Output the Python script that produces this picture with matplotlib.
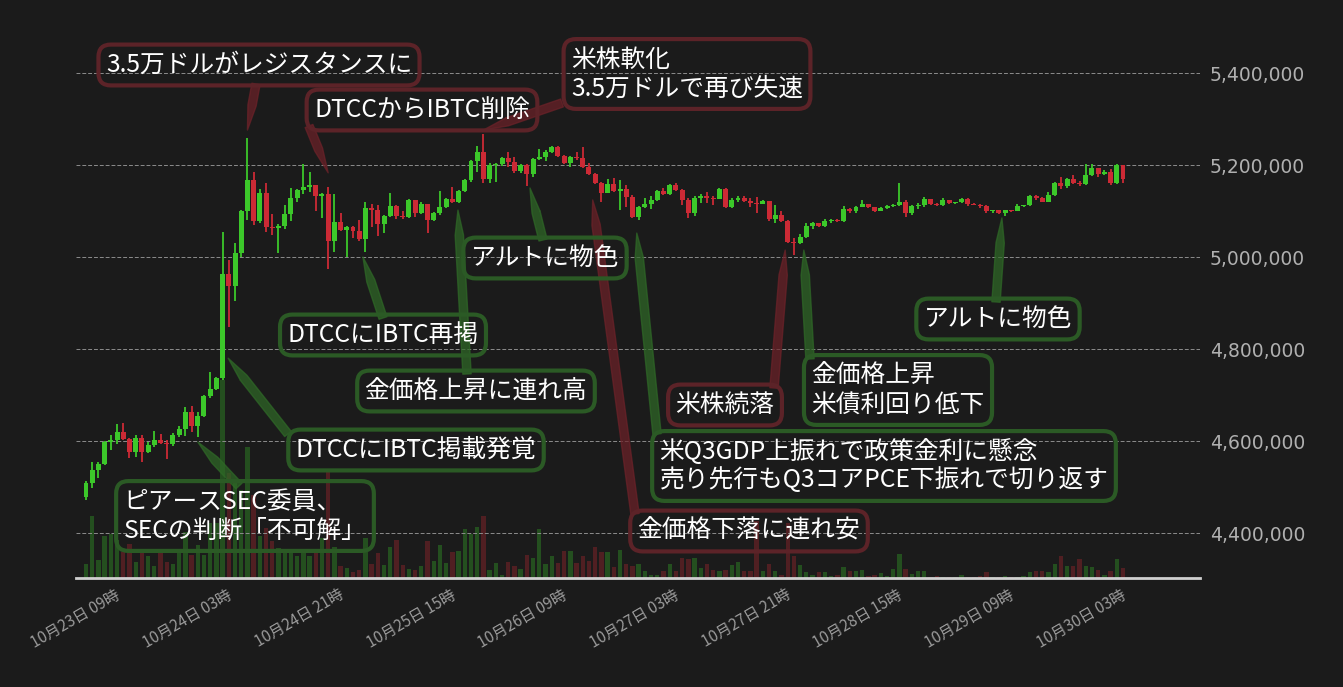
import numpy as np
import matplotlib
matplotlib.use('Agg')
import matplotlib.pyplot as plt
from matplotlib.ticker import FuncFormatter

plt.rcParams['font.family'] = ['Noto Sans CJK JP', 'DejaVu Sans']

bg = '#1b1b1b'
up_col = '#3cc82a'
down_col = '#cc2a35'
box_green = '#2b5a25'
box_red = '#5c2328'

# hourly BTC/JPY, prices in thousand yen (open = previous close)
open_first = 4478
close_k = [4509, 4537, 4550, 4598, 4602, 4620, 4604, 4576, 4607, 4576,
           4591, 4602, 4596, 4594, 4613, 4626, 4663, 4633, 4654, 4698,
           4713, 4737, 4963, 4937, 5009, 5100, 5167, 5078, 5139, 5065,
           5063, 5067, 5093, 5128, 5146, 5152, 5157, 5133, 5137, 5035,
           5076, 5059, 5065, 5057, 5039, 5107, 5102, 5072, 5089, 5111,
           5089, 5087, 5124, 5096, 5115, 5080, 5096, 5109, 5126, 5120,
           5143, 5167, 5209, 5228, 5170, 5200, 5202, 5215, 5207, 5187,
           5200, 5180, 5213, 5217, 5228, 5239, 5220, 5204, 5217, 5215,
           5196, 5180, 5161, 5139, 5159, 5143, 5148, 5130, 5087, 5109,
           5115, 5124, 5143, 5137, 5157, 5146, 5124, 5096, 5128, 5133,
           5128, 5127, 5148, 5109, 5124, 5128, 5122, 5117, 5116, 5122,
           5083, 5091, 5078, 5033, 5030, 5043, 5067, 5074, 5067, 5078,
           5080, 5078, 5104, 5100, 5109, 5115, 5109, 5100, 5107, 5111,
           5113, 5120, 5096, 5111, 5112, 5126, 5115, 5113, 5124, 5117,
           5119, 5126, 5115, 5113, 5111, 5100, 5102, 5096, 5102, 5100,
           5111, 5113, 5133, 5128, 5120, 5135, 5161, 5154, 5170, 5161,
           5159, 5178, 5194, 5180, 5185, 5161, 5200, 5170]
high_k = [4513, 4554, 4554, 4600, 4613, 4637, 4639, 4607, 4613, 4613,
          4598, 4622, 4615, 4602, 4617, 4633, 4674, 4676, 4663, 4700,
          4750, 4739, 5054, 4993, 5030, 5102, 5259, 5185, 5148, 5161,
          5093, 5072, 5113, 5150, 5148, 5202, 5185, 5157, 5139, 5152,
          5137, 5096, 5067, 5067, 5080, 5120, 5115, 5113, 5091, 5139,
          5113, 5100, 5126, 5124, 5120, 5115, 5098, 5143, 5128, 5152,
          5145, 5169, 5211, 5241, 5267, 5204, 5204, 5217, 5228, 5217,
          5202, 5202, 5215, 5235, 5233, 5241, 5241, 5222, 5219, 5228,
          5239, 5204, 5183, 5163, 5170, 5172, 5167, 5157, 5135, 5111,
          5128, 5133, 5146, 5150, 5159, 5161, 5148, 5128, 5133, 5137,
          5141, 5133, 5150, 5150, 5128, 5133, 5133, 5128, 5130, 5124,
          5122, 5113, 5100, 5080, 5041, 5050, 5074, 5076, 5074, 5083,
          5082, 5083, 5111, 5107, 5111, 5124, 5115, 5109, 5109, 5113,
          5115, 5161, 5124, 5113, 5117, 5130, 5126, 5117, 5128, 5124,
          5120, 5128, 5128, 5117, 5115, 5113, 5103, 5102, 5103, 5102,
          5115, 5114, 5134, 5135, 5130, 5141, 5162, 5174, 5172, 5178,
          5165, 5202, 5202, 5194, 5189, 5191, 5202, 5200]
low_k = [4472, 4498, 4520, 4548, 4580, 4594, 4602, 4563, 4565, 4554,
         4574, 4587, 4594, 4561, 4589, 4609, 4611, 4620, 4609, 4652,
         4694, 4711, 4733, 4848, 4904, 5000, 5080, 5070, 5074, 5054,
         5048, 5009, 5061, 5078, 5120, 5137, 5141, 5100, 5085, 4974,
         5011, 5057, 5000, 5041, 5035, 5011, 5065, 5046, 5052, 5087,
         5083, 5083, 5085, 5087, 5094, 5052, 5078, 5091, 5107, 5118,
         5118, 5141, 5163, 5185, 5161, 5161, 5163, 5198, 5196, 5183,
         5183, 5154, 5174, 5211, 5209, 5226, 5218, 5202, 5196, 5211,
         5194, 5178, 5159, 5120, 5139, 5141, 5102, 5109, 5085, 5080,
         5107, 5104, 5122, 5135, 5135, 5143, 5113, 5085, 5089, 5117,
         5117, 5113, 5126, 5107, 5107, 5120, 5120, 5109, 5096, 5115,
         5078, 5074, 5076, 5031, 5004, 5028, 5041, 5061, 5065, 5065,
         5074, 5076, 5076, 5096, 5096, 5109, 5107, 5098, 5099, 5104,
         5109, 5111, 5087, 5091, 5104, 5109, 5113, 5111, 5111, 5116,
         5115, 5117, 5111, 5112, 5107, 5096, 5096, 5093, 5089, 5098,
         5099, 5109, 5111, 5124, 5119, 5119, 5133, 5148, 5150, 5159,
         5154, 5157, 5176, 5174, 5178, 5157, 5159, 5161]
volume = [14, 62, 18, 42, 44, 38, 26, 34, 16, 27,
          22, 12, 26, 16, 14, 28, 46, 23, 33, 23,
          55, 55, 198, 105, 95, 88, 131, 83, 42, 50,
          37, 30, 27, 27, 22, 29, 22, 28, 40, 106,
          31, 12, 10, 6, 8, 40, 14, 25, 13, 31,
          38, 13, 9, 8, 12, 37, 17, 33, 15, 26,
          27, 49, 44, 51, 62, 8, 15, 3, 16, 12,
          9, 23, 20, 49, 14, 22, 15, 27, 27, 15,
          22, 17, 31, 26, 26, 11, 28, 14, 12, 14,
          7, 3, 3, 7, 14, 7, 20, 19, 20, 10,
          14, 8, 7, 8, 13, 16, 7, 7, 57, 7,
          14, 7, 3, 55, 22, 13, 6, 3, 6, 6,
          2, 3, 11, 7, 7, 8, 2, 3, 5, 2,
          9, 24, 9, 4, 7, 7, 1, 2, 1, 1,
          1, 3, 1, 1, 2, 6, 1, 1, 2, 1,
          1, 2, 6, 7, 7, 6, 14, 22, 12, 12,
          19, 12, 11, 8, 3, 7, 19, 10]

tick_pos = [6, 24, 42, 60, 78, 96, 114, 132, 150, 168]
tick_labels = ['10月23日 09時', '10月24日 03時', '10月24日 21時', '10月25日 15時',
               '10月26日 09時', '10月27日 03時', '10月27日 21時', '10月28日 15時',
               '10月29日 09時', '10月30日 03時']
price_ticks = [4400000, 4600000, 4800000, 5000000, 5200000, 5400000]

# (text, colour, box centre px, arrow base px, tip index, tip price k)
notes = [
    ('3.5万ドルがレジスタンスに', 'r', (259, 65), (256, 84), 26, 5276),
    ('DTCCからIBTC削除', 'r', (422, 110), (309, 126), 39, 5183),
    ('米株軟化\n3.5万ドルで再び失速', 'r', (687, 74), (562, 103), 64, 5276),
    ('アルトに物色', 'g', (545, 258), (543, 240), 71.5, 5150),
    ('DTCCにIBTC再掲', 'g', (383, 335), (383, 318), 44.6, 5000),
    ('金価格上昇に連れ高', 'g', (476, 391), (467, 374), 59.9, 5102),
    ('DTCCにIBTC掲載発覚', 'g', (416, 450), (288, 434), 22.9, 4780),
    ('ピアースSEC委員、\nSECの判断「不可解」', 'g', (245, 516), (239, 486), 18, 4598),
    ('米株続落', 'r', (725, 405), (774, 388), 112.6, 5015),
    ('金価格上昇\n米債利回り低下', 'g', (898, 390), (810, 359), 115.6, 5015),
    ('米Q3GDP上振れで政策金利に懸念\n売り先行もQ3コアPCE下振れで切り返す', 'g',
     (884, 466), (657, 434), 88.7, 5052),
    ('金価格下落に連れ安', 'r', (749, 531), (635, 514), 81.6, 5124),
    ('アルトに物色', 'g', (998, 319), (996, 302), 147.5, 5085),
]

W, H = 1343, 687
close = np.array(close_k) * 1000.0
opn = np.concatenate([[open_first], close_k[:-1]]) * 1000.0
high = np.maximum(np.array(high_k) * 1000.0, np.maximum(opn, close))
low = np.minimum(np.array(low_k) * 1000.0, np.minimum(opn, close))
x = np.arange(len(close))
up = close >= opn
cols = np.where(up, up_col, down_col)

fig = plt.figure(figsize=(W / 100, H / 100), dpi=100, facecolor=bg)
ax = fig.add_axes([76 / W, 109 / H, 1124 / W, 548 / H])
ax2 = ax.twinx()
ax2.set_zorder(1)
ax.set_zorder(2)
ax.patch.set_visible(False)
ax2.patch.set_facecolor(bg)

# volume
ax2.bar(x, volume, width=0.7, color=cols, alpha=0.3, linewidth=0)
ax2.set_ylim(0, 548)
ax2.set_yticks([])
for s in ax2.spines.values():
    s.set_visible(False)

# candles
ax.vlines(x, low, high, colors=cols, linewidth=1.3, zorder=3)
body = np.maximum(np.abs(close - opn), 1800)
ax.bar(x, body, bottom=np.minimum(opn, close), width=0.8, color=cols,
       linewidth=0, zorder=4)

ax.set_xlim(-1.61, 179.4)
ax.set_ylim(4302200, 5493500)
ax.set_yticks(price_ticks)
ax.yaxis.set_major_formatter(FuncFormatter(lambda v, p: f'{v:,.0f}'))
ax.yaxis.tick_right()
ax.tick_params(axis='y', length=0, pad=7, labelsize=13.5, labelcolor='#b0b0b0')
for t in ax.get_yticklabels():
    t.set_family('DejaVu Sans')
ax.set_xticks(tick_pos)
ax.set_xticklabels(tick_labels, rotation=30, ha='right')
ax.tick_params(axis='x', length=0, pad=6, labelsize=11, labelcolor='#9a9a9a')
ax.grid(axis='y', color='#8c8c8c', linestyle=(0, (4, 2)), linewidth=0.7)
ax.set_axisbelow(True)
for k in ['left', 'right', 'top']:
    ax.spines[k].set_visible(False)
ax.spines['bottom'].set_color('#d0d0d0')
ax.spines['bottom'].set_linewidth(2)

# annotations
for text, c, (cx, cy), (bx, by), ti, tp in notes:
    ec = box_green if c == 'g' else box_red
    ac = '#2f6a27' if c == 'g' else '#6e2229'
    ax.annotate('', xy=(ti, tp * 1000), xycoords='data',
                xytext=(bx, H - by), textcoords='figure pixels',
                arrowprops=dict(arrowstyle='simple,tail_width=0.6,head_width=0.6,head_length=1.8',
                                fc=ac, ec=ac, alpha=0.7, lw=1,
                                mutation_scale=10, shrinkA=0, shrinkB=0),
                annotation_clip=False, zorder=6)
    fig.text(cx / W, 1 - cy / H, text, ha='center', va='center', color='white',
             fontsize=17.8, linespacing=1.15, multialignment='left', zorder=7,
             bbox=dict(boxstyle='round,pad=0.3,rounding_size=0.5',
                       fc='none', ec=ec, lw=3))

fig.savefig('out.png', dpi=100, facecolor=bg)
